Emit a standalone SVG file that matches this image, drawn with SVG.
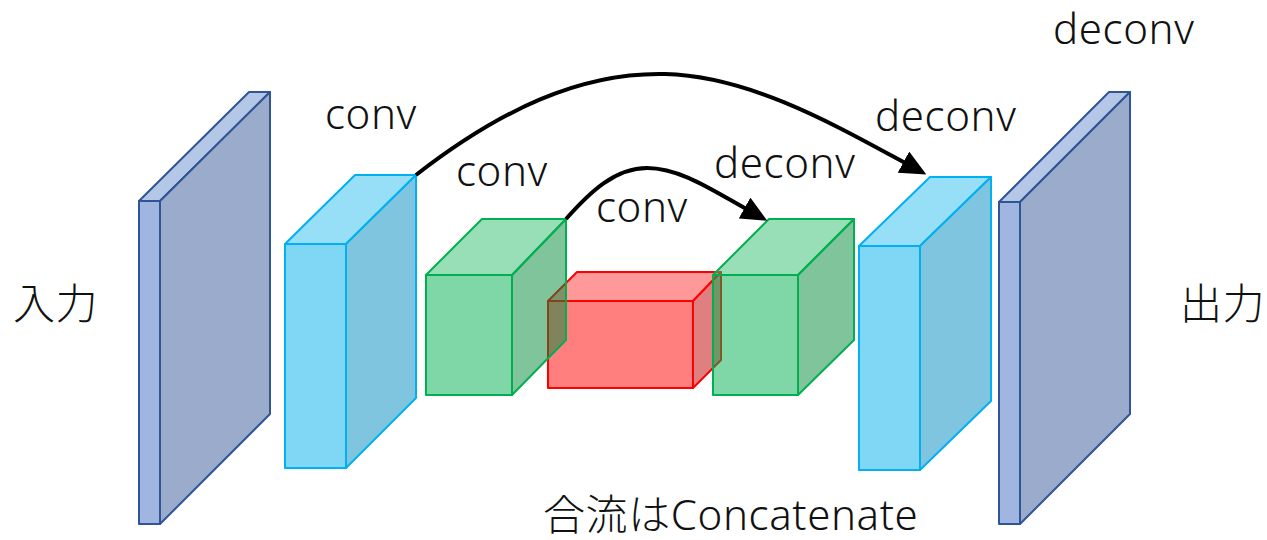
<svg xmlns="http://www.w3.org/2000/svg" width="1267" height="540" viewBox="0 0 1267 540">
  <style>
    text { font-family: "Noto Sans", "Noto Sans CJK JP", sans-serif; font-size: 42px; font-weight: 300; letter-spacing: 0.6px; fill: #111; }
    .slab { stroke: #2f5597; stroke-width: 2; stroke-linejoin: round; }
    .slab .front { fill: #a0b5e0; }
    .slab .top { fill: #b4c7e7; }
    .slab .side { fill: #9aabcb; }
    .cyan { stroke: #00b0f0; stroke-width: 2; stroke-linejoin: round; }
    .cyan .front { fill: #80d7f5; }
    .cyan .top { fill: #97dff7; }
    .cyan .side { fill: #80c5df; }
    .red { stroke: #ff0000; stroke-width: 2; stroke-linejoin: round; }
    .red .front { fill: #ff7f7f; }
    .red .top { fill: #ff9999; }
    .red .side { fill: #df7f7f; }
    .green { stroke: #00b050; stroke-width: 2; stroke-linejoin: round; }
    .green polygon { fill-opacity: 0.5; }
    .green .front { fill: #00b050; }
    .green .top { fill: #31bf71; }
    .green .side { fill: #018939; }
    .link { fill: none; stroke: #000; stroke-width: 4; marker-end: url(#head); }
  </style>
  <defs>
    <marker id="head" viewBox="0 0 26 24" refX="4" refY="12" markerWidth="26" markerHeight="24" markerUnits="userSpaceOnUse" orient="auto">
      <path d="M0,0 L26,12 L0,24 z" fill="#000"/>
    </marker>
  </defs>

  <!-- input slab -->
  <g id="input" class="slab">
    <polygon class="top" points="139,201 249,92 270,92 160,201"/>
    <polygon class="side" points="160,201 270,92 270,414 160,524"/>
    <polygon class="front" points="139,201 160,201 160,524 139,524"/>
  </g>

  <!-- output slab -->
  <g id="output" class="slab">
    <polygon class="top" points="999,202 1109,92 1130,92 1020,202"/>
    <polygon class="side" points="1020,202 1130,92 1130,414 1020,524"/>
    <polygon class="front" points="999,202 1020,202 1020,524 999,524"/>
  </g>

  <!-- encoder conv 1 -->
  <g id="enc1" class="cyan">
    <polygon class="top" points="285,244 355,175 416,175 346,244"/>
    <polygon class="side" points="346,244 416,175 416,398 346,468"/>
    <polygon class="front" points="285,244 346,244 346,468 285,468"/>
  </g>

  <!-- decoder deconv 2 -->
  <g id="dec2" class="cyan">
    <polygon class="top" points="859,246 930,177 991,177 920,246"/>
    <polygon class="side" points="920,246 991,177 991,401 920,470"/>
    <polygon class="front" points="859,246 920,246 920,470 859,470"/>
  </g>

  <!-- bottleneck -->
  <g id="bottleneck" class="red">
    <polygon class="top" points="548,301 577,272 721,272 693,301"/>
    <polygon class="side" points="693,301 721,272 721,360 693,388"/>
    <polygon class="front" points="548,301 693,301 693,388 548,388"/>
  </g>

  <!-- encoder conv 2 -->
  <g id="enc2" class="green">
    <polygon class="top" points="426,275 482,219 566,219 512,275"/>
    <polygon class="side" points="512,275 566,219 566,340 512,395"/>
    <polygon class="front" points="426,275 512,275 512,395 426,395"/>
  </g>

  <!-- decoder deconv 1 -->
  <g id="dec1" class="green">
    <polygon class="top" points="713,275 769,219 854,219 798,275"/>
    <polygon class="side" points="798,275 854,219 854,340 798,395"/>
    <polygon class="front" points="713,275 798,275 798,395 713,395"/>
  </g>

  <!-- skip connections -->
  <g id="connectors">
    <path class="link" d="M416,175 C500,110 580,72 665,74 C750,76 835,125 907,164"/>
    <path class="link" d="M566,219 C590,192 615,168 647,168 C680,168 712,190 748,210"/>
  </g>

  <!-- labels -->
  <g id="labels">
    <text x="13" y="319">入力</text>
    <text x="1180" y="319">出力</text>
    <text x="325" y="129">conv</text>
    <text x="456" y="186">conv</text>
    <text x="596" y="222">conv</text>
    <text x="714" y="178">deconv</text>
    <text x="875" y="131">deconv</text>
    <text x="1053" y="44">deconv</text>
    <text x="543" y="530">合流はConcatenate</text>
  </g>
</svg>
